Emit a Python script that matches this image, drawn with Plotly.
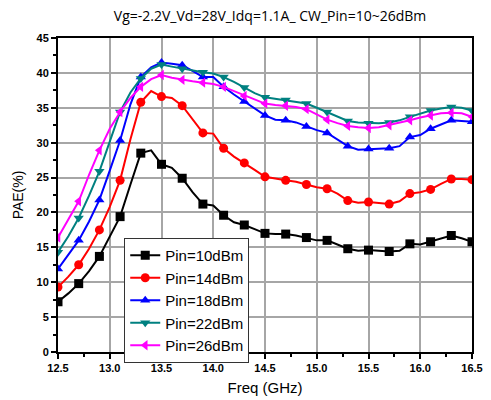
import plotly.graph_objects as go

freq = [12.5, 12.6, 12.7, 12.8, 12.9, 13.0, 13.1, 13.2, 13.3, 13.4, 13.5, 13.6, 13.7, 13.8,
        13.9, 14.0, 14.1, 14.2, 14.3, 14.4, 14.5, 14.6, 14.7, 14.8, 14.9, 15.0, 15.1, 15.2,
        15.3, 15.4, 15.5, 15.6, 15.7, 15.8, 15.9, 16.0, 16.1, 16.2, 16.3, 16.4, 16.5]

pae_10 = [7.2, 8.4, 9.8, 11.6, 13.7, 16.6, 19.4, 24.0, 28.5, 28.9, 26.9, 26.4, 24.9, 22.9,
          21.2, 21.0, 19.6, 18.6, 18.2, 17.6, 17.0, 16.9, 16.9, 16.7, 16.4, 16.0, 16.0, 15.4,
          14.8, 14.5, 14.6, 14.5, 14.4, 14.5, 15.5, 15.4, 15.8, 16.2, 16.7, 16.3, 15.8]
pae_14 = [9.3, 10.8, 12.5, 14.8, 17.5, 20.8, 24.6, 30.5, 35.8, 37.4, 36.6, 36.4, 35.3, 33.3,
          31.4, 31.3, 29.2, 28.0, 27.1, 26.1, 25.1, 24.8, 24.6, 24.4, 24.0, 23.6, 23.4, 22.7,
          21.7, 21.4, 21.5, 21.4, 21.2, 21.6, 22.7, 22.9, 23.3, 24.1, 24.8, 24.8, 24.7]
pae_18 = [11.9, 13.9, 16.0, 18.7, 21.8, 26.0, 30.3, 35.5, 39.4, 40.8, 41.5, 41.3, 41.1, 40.3,
          39.4, 39.4, 38.0, 36.9, 35.9, 34.9, 33.9, 33.3, 33.2, 32.9, 32.3, 31.8, 31.4, 30.5,
          29.5, 29.0, 29.1, 29.1, 29.2, 29.5, 30.8, 31.1, 32.0, 32.6, 33.2, 33.1, 33.0]
pae_22 = [14.3, 16.6, 19.2, 22.4, 25.9, 30.3, 34.4, 37.2, 39.2, 40.6, 41.2, 40.9, 40.6, 40.3,
          40.1, 39.9, 39.4, 38.7, 37.9, 37.1, 36.5, 36.3, 36.1, 35.9, 35.6, 35.0, 34.4, 33.7,
          33.1, 32.9, 32.8, 32.8, 32.9, 33.2, 33.7, 34.2, 34.6, 34.9, 35.1, 35.0, 34.6]
pae_26 = [16.4, 18.9, 21.6, 25.4, 28.9, 32.0, 34.4, 36.4, 38.0, 39.1, 39.7, 39.3, 39.0, 38.8,
          38.6, 38.4, 38.0, 37.4, 36.7, 36.1, 35.6, 35.4, 35.3, 35.1, 34.8, 34.1, 33.3, 32.8,
          32.4, 32.2, 32.1, 32.2, 32.5, 32.8, 33.2, 33.6, 33.9, 34.2, 34.3, 34.2, 33.7]

names = ["Pin=10dBm", "Pin=14dBm", "Pin=18dBm", "Pin=22dBm", "Pin=26dBm"]
series = [pae_10, pae_14, pae_18, pae_22, pae_26]
colors = ["#000000", "#ff0000", "#0000ff", "#008080", "#ff00ff"]
symbols = ["square", "circle", "triangle-up", "triangle-down", "triangle-left"]

fig = go.Figure()
for name, ys, c, s in zip(names, series, colors, symbols):
    fig.add_trace(go.Scatter(x=freq, y=ys, mode="lines", line=dict(color=c, width=2),
                             legendgroup=name, showlegend=False, hoverinfo="skip"))
    fig.add_trace(go.Scatter(x=freq[::2], y=ys[::2], mode="markers",
                             marker=dict(color=c, symbol=s, size=9),
                             legendgroup=name, showlegend=False))
    fig.add_trace(go.Scatter(x=[None], y=[None], mode="lines+markers", name=name,
                             line=dict(color=c, width=2),
                             marker=dict(color=c, symbol=s, size=9),
                             legendgroup=name))

fig.update_layout(
    width=491, height=400,
    margin=dict(l=58, r=19, t=38, b=48, autoexpand=False),
    paper_bgcolor="white", plot_bgcolor="white",
    title=dict(text="Vg=-2.2V_Vd=28V_Idq=1.1A_ CW_Pin=10~26dBm",
               font=dict(family="Open Sans", size=14, color="black"),
               x=0.55, xanchor="center", y=0.96, yanchor="middle"),
    legend=dict(x=0.16, y=0.363, xanchor="left", yanchor="top",
                bgcolor="white", bordercolor="#333333", borderwidth=1,
                font=dict(family="Liberation Sans", size=15, color="black"),
                tracegroupgap=0, itemwidth=30),
    showlegend=True,
)
fig.update_xaxes(
    range=[12.5, 16.5], dtick=0.5, tick0=12.5, tickformat=".1f", automargin=False,
    showline=True, linecolor="black", linewidth=2, mirror=True,
    showgrid=True, gridcolor="#a6a6a6", gridwidth=1.5, zeroline=False,
    ticks="outside", ticklen=5, tickwidth=1.5, tickcolor="black",
    minor=dict(dtick=0.25, ticks="outside", ticklen=3, tickwidth=1.5, tickcolor="black", showgrid=False),
    tickfont=dict(family="Liberation Sans", size=11, color="black", weight="bold"),
    title=dict(text="Freq (GHz)", font=dict(family="Liberation Sans", size=15, color="black"), standoff=9),
)
fig.update_yaxes(
    range=[0, 45], dtick=5, tick0=0, automargin=False,
    showline=True, linecolor="black", linewidth=2, mirror=True,
    showgrid=True, gridcolor="#a6a6a6", gridwidth=1.5, zeroline=False,
    ticks="outside", ticklen=5, tickwidth=1.5, tickcolor="black",
    minor=dict(dtick=2.5, ticks="outside", ticklen=3, tickwidth=1.5, tickcolor="black", showgrid=False),
    tickfont=dict(family="Liberation Sans", size=11, color="black", weight="bold"),
    title=dict(text="PAE(%)", font=dict(family="Liberation Sans", size=14, color="black"), standoff=10),
)
fig.write_html("out.html")
